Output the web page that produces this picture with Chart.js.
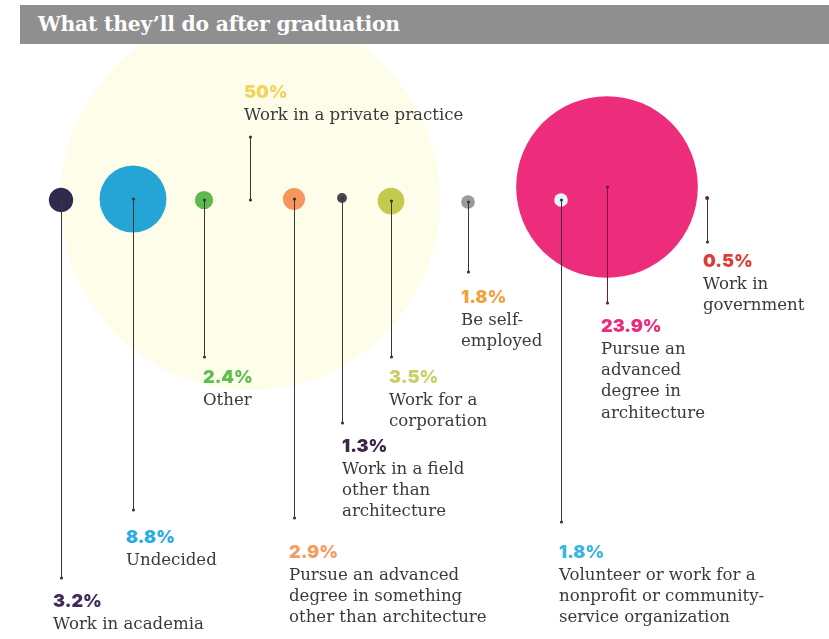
<!DOCTYPE html>
<html>
<head>
<meta charset="utf-8">
<script src="https://cdn.jsdelivr.net/npm/chart.js@4"></script>
<style>
  html, body { margin: 0; padding: 0; background: #fff; }
  #wrap { position: relative; width: 829px; height: 639px; }
  #chart { position: absolute; left: 0; top: 0; }
  #title {
    position: absolute; left: 20px; top: 5px; width: 809px; height: 39px;
    background: #8f8f8f; color: #fff;
    font: bold 20.3px "DejaVu Serif", serif;
    line-height: 39px; padding-left: 18px; box-sizing: border-box;
    letter-spacing: -0.2px;
  }
</style>
</head>
<body>
<div id="wrap">
  <canvas id="chart" width="829" height="639"></canvas>
  <div id="title">What they’ll do after graduation</div>
</div>
<script>
// share of graduates per plan, left to right
const categories = [
  'Work in academia', 'Undecided', 'Other', 'Work in a private practice',
  'Pursue an advanced degree in something other than architecture',
  'Work in a field other than architecture', 'Work for a corporation',
  'Be self-employed',
  'Volunteer or work for a nonprofit or community-service organization',
  'Pursue an advanced degree in architecture', 'Work in government'
];
const shares = [3.2, 8.8, 2.4, 50, 2.9, 1.3, 3.5, 1.8, 1.8, 23.9, 0.5];
const labelLines = [
  ['Work in academia'],
  ['Undecided'],
  ['Other'],
  ['Work in a private practice'],
  ['Pursue an advanced', 'degree in something', 'other than architecture'],
  ['Work in a field', 'other than', 'architecture'],
  ['Work for a', 'corporation'],
  ['Be self-', 'employed'],
  ['Volunteer or work for a', 'nonprofit or community-', 'service organization'],
  ['Pursue an', 'advanced', 'degree in', 'architecture'],
  ['Work in', 'government']
];

// colours
const bubbleColors = ['#2f2a4e', '#25a4d6', '#5dba4c', '#fdfdea', '#f7955d', '#4b4452',
  '#c4ca4c', '#9b999a', '#e4f4fa', '#ee2c7c', '#a11c38'];
const pctColors = ['#3f2c5a', '#2aabe2', '#5cbf4d', '#f1d35e', '#f69b64', '#3b2549',
  '#c8cf62', '#f0a23e', '#3db5e6', '#ee2b7b', '#e03b3b'];

// layout: bubble centres, leader end points and label anchors (page px)
const bubbleX = [61, 133, 204, 250, 294, 342, 391, 468, 561, 607, 707];
const bubbleY = [200, 199, 200, 200, 199, 198, 201, 202, 200, 187, 198];
const leaderEnd = [578, 510, 357, 137, 518, 423, 357, 272, 522, 303, 242];
const labelX = [53, 126, 203, 244, 289, 342, 389, 461, 559, 601, 703];
const labelY = [607, 543, 383, 98, 558, 452, 383, 303, 558, 332, 267];

const PX_PER_POINT = 3.8; // bubble radius per percentage point
const LINE_H = 21.4;

// big bubbles first so the small ones sit on top
const drawOrder = shares.map((v, i) => i).sort((a, b) => shares[b] - shares[a]);

// bubble controller without the radius padding, so the scales span the whole canvas
class FlatBubble extends Chart.BubbleController {
  getMaxOverflow() { return 0; }
}
FlatBubble.id = 'flatBubble';
FlatBubble.defaults = Chart.BubbleController.defaults;
FlatBubble.overrides = Chart.BubbleController.overrides;
Chart.register(FlatBubble);

const callouts = {
  id: 'callouts',
  afterDatasetsDraw(chart) {
    const ctx = chart.ctx;
    const meta = chart.getDatasetMeta(0);
    ctx.save();
    meta.data.forEach((el, k) => {
      const i = chart.data.datasets[0].data[k].i;
      const x = Math.round(el.x) + 0.5, y = el.y;
      const yEnd = leaderEnd[i];
      ctx.strokeStyle = i === 9 ? '#7a1240' : '#3a3538';
      ctx.fillStyle = ctx.strokeStyle;
      ctx.lineWidth = 1;
      ctx.beginPath();
      ctx.moveTo(x, y);
      ctx.lineTo(x, yEnd);
      ctx.stroke();
      [y, yEnd].forEach(py => {
        ctx.beginPath();
        ctx.arc(x, py, 1.6, 0, Math.PI * 2);
        ctx.fill();
      });

      ctx.textBaseline = 'alphabetic';
      ctx.textAlign = 'left';
      ctx.fillStyle = pctColors[i];
      ctx.font = '900 18px Inter, "DejaVu Sans", sans-serif';
      ctx.fillText(shares[i] + '%', labelX[i], labelY[i]);
      ctx.fillStyle = '#3a3a3a';
      ctx.font = '16.6px "DejaVu Serif", serif';
      labelLines[i].forEach((line, n) => {
        ctx.fillText(line, labelX[i], labelY[i] + 21.5 + n * LINE_H);
      });
    });
    ctx.restore();
  }
};

new Chart(document.getElementById('chart'), {
  type: 'flatBubble',
  data: {
    labels: categories,
    datasets: [{
      data: drawOrder.map(i => ({ x: bubbleX[i], y: bubbleY[i], r: shares[i] * PX_PER_POINT, i })),
      backgroundColor: ctx => bubbleColors[ctx.raw ? ctx.raw.i : 0],
      borderWidth: 0,
      hoverBorderWidth: 0,
      clip: false
    }]
  },
  options: {
    responsive: false,
    animation: false,
    devicePixelRatio: 1,
    layout: { padding: 0 },
    scales: {
      x: { type: 'linear', min: 0, max: 829, display: false },
      y: { type: 'linear', min: 0, max: 639, reverse: true, display: false }
    },
    plugins: {
      legend: { display: false },
      tooltip: { enabled: false }
    }
  },
  plugins: [callouts]
});
</script>
</body>
</html>
